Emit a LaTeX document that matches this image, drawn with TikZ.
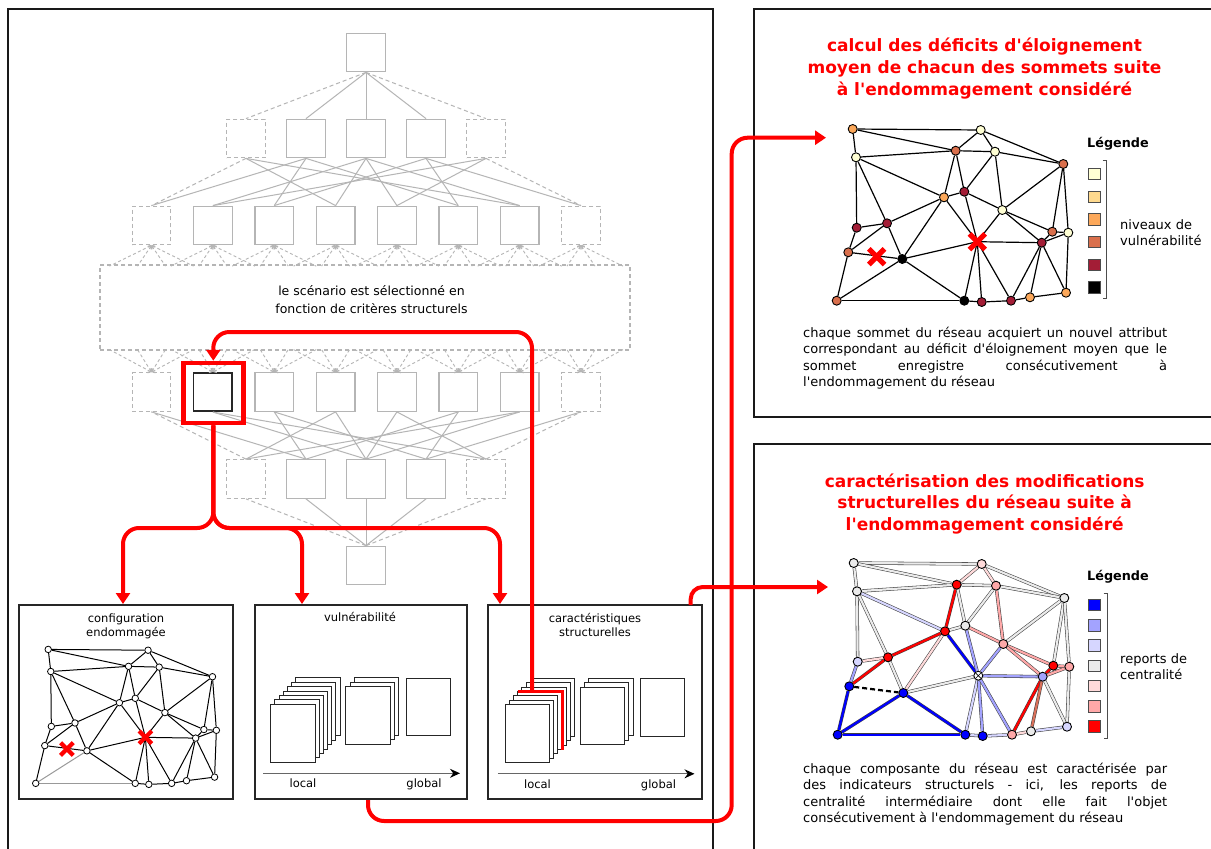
\documentclass[tikz,border=0pt]{standalone}
\usepackage{fontspec}
\setmainfont{DejaVu Sans}[Ligatures=TeXOff]
\usetikzlibrary{arrows.meta,shapes.misc}
\pgfdeclarelayer{bg}
\pgfsetlayers{bg,main}
\definecolor{lat}{HTML}{B5B5B5}
\definecolor{v1}{HTML}{FFFFD4}
\definecolor{v2}{HTML}{FED98E}
\definecolor{v3}{HTML}{FCA85A}
\definecolor{v4}{HTML}{D96F4C}
\definecolor{v5}{HTML}{A31D36}
\definecolor{v6}{HTML}{000000}
\definecolor{cb}{HTML}{0000FF}
\definecolor{cmb}{HTML}{A3A3FF}
\definecolor{clb}{HTML}{D6D6FF}
\definecolor{cg}{HTML}{EBEBEB}
\definecolor{clp}{HTML}{FFDADA}
\definecolor{cp}{HTML}{FFA8A8}
\definecolor{cr}{HTML}{FF0000}
\definecolor{cbr}{HTML}{D9705A}
\definecolor{rred}{HTML}{FF0000}
\newcommand\myTitle{\bfseries\fontsize{17}{21.7}\selectfont}
\newcommand\myBody{\fontsize{13}{16.3}\selectfont}
\newcommand\myLab{\fontsize{11.5}{14}\selectfont}
\newcommand\myLat{\fontsize{12.5}{18}\selectfont}
\newcommand\myLeg{\bfseries\fontsize{12.8}{15}\selectfont}
\newcommand\myLegT{\fontsize{13}{15.5}\selectfont}
\newcommand\gpts{A/852.7/129,B/980.7/130,C/856/157.3,D/955.7/150.7,E/995/151.7,F/1063.3/164,G/944/197.3,H/964.3/191.7,I/1002.3/210,J/856.7/227.7,K/887/223.3,L/1052.3/231.7,M/1068.3/232.7,N/1041.7/242.7,X/977.3/241.7,O/848.3/252.3,P/902.3/259,Q/836.7/300.7,R/964.3/300.7,S/981.7/302,T/1011/300.7,U/1030/297.3,V/1066/292.7,Y/876.7/256.7}
\newcommand\elist{A/B,A/C,A/D,B/D,B/E,B/F,C/D,D/E,E/F,C/G,C/J,C/K,D/G,D/H,E/H,E/I,F/I,F/L,F/M,G/H,G/K,G/P,G/X,H/X,H/I,I/X,I/L,I/N,J/K,J/O,K/O,K/P,O/P,O/Q,P/R,P/X,X/N,X/R,X/S,X/T,N/L,N/M,L/M,N/T,N/U,N/V,M/V,R/S,S/T,T/U,U/V}
\newcommand\tcols{A/v3,B/v1,C/v1,D/v4,E/v1,F/v4,G/v3,H/v5,I/v1,J/v5,K/v5,L/v4,M/v1,N/v5,O/v4,P/v6,Q/v4,R/v6,S/v5,T/v5,U/v3,V/v3}
\newcommand\bcols{A/cg,B/clp,C/cg,D/cr,E/cp,F/cg,G/cr,H/cg,I/cp,J/clb,K/cr,L/cr,M/cp,N/cmb,O/cb,P/cb,Q/cb,R/cb,S/cb,T/cp,U/cg,V/clb}
\newcommand\belist{A/B/cg,A/C/cg,A/D/cg,B/D/clp,B/E/clp,B/F/cg,C/D/cg,D/E/cg,E/F/cg,C/G/clb,C/J/cg,C/K/cg,D/G/cr,D/H/cg,E/H/cg,E/I/cp,F/I/cg,F/L/cg,F/M/cg,G/H/cg,G/K/cr,G/P/clp,G/X/cb,H/X/cmb,H/I/cp,I/X/cmb,I/L/cp,I/N/cp,J/K/clp,J/O/cmb,K/O/cr,K/P/cg,O/Q/cb,Q/P/cb,Q/R/cb,P/R/cb,P/X/cg,X/N/cmb,X/R/clb,X/S/cmb,X/T/cmb,N/L/cr,N/M/cp,L/M/cp,N/T/cr,N/U/cbr,N/V/cg,M/V/cg,R/S/clb,S/T/clb,T/U/clp,U/V/clb}
\newcommand\bigsheet[1]{\draw[sheet] ({15.7+4.17*#1},{99.3-4.43*#1}) rectangle ++(44.3,58);}
\newcommand\smallstacks{%
  \foreach \k in {2,1,0} {\draw[sheet] ({90.7+4.3*\k},{81.7-4.5*\k}) rectangle ++(44.3,57.6);}
  \draw[sheet] (151,73.3) rectangle ++(44.3,57.4);
  \draw[draw=black!60, line width=1.2pt, -{Stealth[length=10pt,width=9pt,black]}] (8.3,168.3) -- (205,168.3);
}
\begin{document}
\begin{tikzpicture}[x=1pt,y=-1pt,
  every node/.style={inner sep=0pt},
  lbox/.style={draw=lat, line width=1.3pt, minimum size=38.5pt},
  lboxd/.style={lbox, dash pattern=on 4pt off 3pt},
  lline/.style={draw=lat, line width=1pt},
  llined/.style={lline, dash pattern=on 4pt off 3pt},
  fan/.style={draw=lat, line width=0.9pt, dash pattern=on 3pt off 2.5pt, {Straight Barb[length=2.5pt,width=5pt]}-},
  frame/.style={draw=black!90, line width=2.2pt},
  panel/.style={draw=black!85, line width=1.6pt},
  sheet/.style={draw=black!85, fill=white, line width=1pt},
  rp/.style={draw=rred, line width=4pt, rounded corners=16pt},
  rtip/.style={-{Triangle[length=11pt,width=14pt]}},
  vtx/.style={circle, draw=black, line width=0.9pt, minimum size=9pt},
  lvtx/.style={circle, draw=black, fill=white, line width=0.8pt, minimum size=6.5pt},
  tedge/.style={draw=black, line width=1.2pt},
  ledge/.style={draw=black, line width=1pt},
  bedge/.style={draw=black!75, line width=0.55pt, double distance=2.2pt},
  xm/.style={cross out, draw=rred, line width=5.2pt, minimum size=10.5pt},
  xms/.style={cross out, draw=rred, line width=4.2pt, minimum size=8.5pt},
  lsq/.style={draw=black!70, line width=0.8pt, minimum size=11.5pt},
  lab/.style={font=\myLab, align=center}]
\useasboundingbox (0,0) rectangle (1211,849);
\clip (0,0) rectangle (1211,849);
\begin{pgfonlayer}{bg}
\fill[white] (0,0) rectangle (1211,849);
\end{pgfonlayer}

% ---------- frames ----------
\draw[frame] (8.3,9.3) rectangle (712.7,880);
\draw[frame] (754,9.3) rectangle (1240,417);
\draw[frame] (754,444) rectangle (1240,880);

% ---------- lattice ----------
\node[lbox] (r1) at (366,52.5) {};
\node[lbox] (r7) at (366,565.5) {};
\foreach \n/\px in {b/306,c/366,d/426} {\node[lbox] (r2\n) at (\px,138.5) {}; \node[lbox] (r6\n) at (\px,479) {};}
\foreach \n/\px in {a/246,e/486} {\node[lboxd] (r2\n) at (\px,138.5) {}; \node[lboxd] (r6\n) at (\px,479) {};}
\foreach \n/\px in {b/212.9,c/274.2,d/335.6,e/396.9,f/458.3,g/519.7} {\node[lbox] (r3\n) at (\px,225.5) {};}
\foreach \n/\px in {c/274.2,d/335.6,e/396.9,f/458.3,g/519.7} {\node[lbox] (r5\n) at (\px,392) {};}
\foreach \n/\px in {a/151.5,h/581} {\node[lboxd] (r3\n) at (\px,225.5) {}; \node[lboxd] (r5\n) at (\px,392) {};}
\node[lbox, draw=black!85, line width=1.6pt] (r5b) at (212.9,392) {};

\foreach \n/\s in {a/llined,b/lline,c/lline,d/lline,e/llined} {\draw[\s] (r1.south) -- (r2\n.north); \draw[\s] (r7.north) -- (r6\n.south);}
\foreach \u/\v/\s in {a/a/llined,a/d/lline,a/g/lline,b/a/lline,b/c/lline,b/f/lline,c/b/lline,c/d/lline,c/e/lline,c/g/lline,d/h/lline,d/f/lline,d/c/lline,e/h/llined,e/e/lline,e/b/lline} {\draw[\s] (r2\u.south) -- (r3\v.north); \draw[\s] (r6\u.north) -- (r5\v.south);}

\node[draw=lat, line width=1.3pt, dash pattern=on 4pt off 3pt, minimum width=530pt, minimum height=85pt] (scen) at (365,307.5) {};
\node[font=\myLat, align=center] (scent) at (371.5,300) {le scénario est sélectionné en\\fonction de critères structurels};
\foreach \n in {a,b,c,d,e,f,g,h} {\foreach \d in {-42,-14,14,42} {\draw[fan] (r3\n.south) -- ++(\d,20.7); \draw[fan] (r5\n.north) -- ++(\d,-22.5);}}

\node[draw=rred, line width=4.5pt, minimum size=60pt] (sel) at (213.3,393) {};

% ---------- bottom panels ----------
\node[panel, minimum width=214pt, minimum height=194pt] (p1) at (126,702) {};
\node[panel, minimum width=212pt, minimum height=194pt] (p2) at (361,702) {};
\node[panel, minimum width=214pt, minimum height=194pt] (p3) at (595,702) {};
\node[lab, anchor=north] (p1t) at (126,613.5) {configuration\\endommagée};
\node[lab, anchor=north] (p2t) at (360,612.5) {vulnérabilité};
\node[lab, anchor=north] (p3t) at (595,613.5) {caractéristiques\\structurelles};

\begin{scope}[shift={(255,605)}]
  \foreach \k in {6,5,4,3,2,1,0} {\bigsheet{\k}}
  \smallstacks
  \node[font=\myLab, anchor=base] (lo2) at (48,182.5) {local};
  \node[font=\myLab, anchor=base] (gl2) at (169,182.5) {global};
\end{scope}
\begin{scope}[shift={(489.5,605.5)}]
  \foreach \k in {6,5,4} {\bigsheet{\k}}
  \bigsheet{3}
  \draw[rred, line width=3pt] ({15.7+4.17*3},{99.3-4.43*3}) -- ++(44.3,0) -- ++(0,58);
  \foreach \k in {2,1,0} {\bigsheet{\k}}
  \coordinate (hl) at (42.5,86);
  \smallstacks
  \node[font=\myLab, anchor=base] (lo3) at (48,182.5) {local};
  \node[font=\myLab, anchor=base] (gl3) at (169,182.5) {global};
\end{scope}

% ---------- graphs: coordinates ----------
\foreach \n/\px/\py in \gpts {\coordinate (t\n) at (\px,\py);}
\begin{scope}[shift={(1,434)}]
  \foreach \n/\px/\py in \gpts {\coordinate (b\n) at (\px,\py);}
\end{scope}
\begin{scope}[shift={(-616.9,548.8)},scale=0.78]
  \foreach \n/\px/\py in \gpts {\coordinate (l\n) at (\px,\py);}
\end{scope}

% nodes
\foreach \n/\c in \tcols {\node[vtx, fill=\c] (tv\n) at (t\n) {};}
\coordinate (tvX) at (tX);
\foreach \n/\c in \tcols {\node[lvtx] (lv\n) at (l\n) {};}
\coordinate (lvX) at (lX);
\foreach \n/\c in \bcols {\node[vtx, fill=\c] (bv\n) at (b\n) {};}
\node[vtx, fill=white] (bvX) at (bX) {};
\node[cross out, draw=black, line width=0.6pt, minimum size=5.5pt] (bvXx) at (bX) {};

\begin{pgfonlayer}{bg}
  \foreach \a/\b in \elist {\draw[tedge] (tv\a) -- (tv\b);}
  \draw[tedge] (tvQ) -- (tvP);
  \draw[tedge] (tvQ) -- (tvR);
  \foreach \a/\b in \elist {\draw[ledge] (lv\a) -- (lv\b);}
  \draw[ledge, draw=black!40] (lvQ) -- (lvP);
  \draw[ledge, draw=black!40] (lvQ) -- (lvR);
  \foreach \a/\b/\c in \belist {\draw[bedge, double=\c] (bv\a) -- (bv\b);}
  \draw[black, line width=2.2pt, dash pattern=on 5pt off 3pt] (bvO) -- (bvP);
\end{pgfonlayer}

\node[xm] (tx1) at (tY) {};
\node[xm] (tx2) at (tX) {};
\node[xms] (lx1) at (lY) {};
\node[xms] (lx2) at (lX) {};

% ---------- right panels text ----------
\node[font=\myTitle, align=center, anchor=north, text=rred] (ti1) at (984.5,38.2) {calcul des déficits d'éloignement\\moyen de chacun des sommets suite\\à l'endommagement considéré};
\node[font=\myTitle, align=center, anchor=north, text=rred] (ti2) at (984.7,473.2) {caractérisation des modifications\\structurelles du réseau suite à\\l'endommagement considéré};
\node[anchor=north west] (txt1) at (803,327) {\parbox{364pt}{\myBody\hyphenpenalty=10000 chaque sommet du réseau acquiert un nouvel attribut\linebreak correspondant au déficit d'éloignement moyen que le\linebreak sommet enregistre consécutivement à\linebreak l'endommagement du réseau}};
\node[anchor=north west] (txt2) at (803,763) {\parbox{364pt}{\myBody\hyphenpenalty=10000 chaque composante du réseau est caractérisée par\linebreak des indicateurs structurels - ici, les reports de\linebreak centralité intermédiaire dont elle fait l'objet\linebreak consécutivement à l'endommagement du réseau}};

% legends
\node[font=\myLeg, anchor=west] (leg1) at (1087,144) {Légende};
\foreach \c [count=\i] in {v1,v2,v3,v4,v5,v6} {\node[lsq, fill=\c] (lt\i) at (1094.2,{151.3+22.7*\i}) {};}
\draw[draw=black!70, line width=1pt] (1102.5,160) -- (1106.7,160) -- (1106.7,298) -- (1102.5,298);
\node[font=\myLegT, align=left, anchor=west] (leg1t) at (1120,232.5) {niveaux de\\vulnérabilité};
\node[font=\myLeg, anchor=west] (leg2) at (1087,577) {Légende};
\foreach \c [count=\i] in {cb,cmb,clb,cg,clp,cp,cr} {\node[lsq, fill=\c] (lb\i) at (1094.2,{584.7+20.25*\i}) {};}
\draw[draw=black!70, line width=1pt] (1103.5,593) -- (1107.7,593) -- (1107.7,738) -- (1103.5,738);
\node[font=\myLegT, align=left, anchor=west] (leg2t) at (1120,666.5) {reports de\\centralité};

% ---------- red connectors ----------
\coordinate (jn) at (213.3,528);
\coordinate (ta1) at (123,604);
\coordinate (ta2) at (302,604);
\coordinate (ta3) at (500,604);
\coordinate (c0) at (368,800);
\coordinate (ta4) at (826,137.7);
\coordinate (d0) at (690.7,605);
\coordinate (ta5) at (828,587);
\draw[rp, rtip] (hl) -- (532,332) -- (213.3,332) -- (sel.north);
\draw[rp, rtip] (sel.south) -- (jn) -| (ta1);
\draw[rp, rtip] (sel.south) -- (jn) -| (ta2);
\draw[rp, rtip] (sel.south) -- (jn) -| (ta3);
\draw[rp, rtip] (c0) -- (368,821) -- (731.7,821) -- (731.7,137.7) -- (ta4);
\draw[rp, rtip, rounded corners=12pt] (d0) |- (ta5);
\end{tikzpicture}
\end{document}
